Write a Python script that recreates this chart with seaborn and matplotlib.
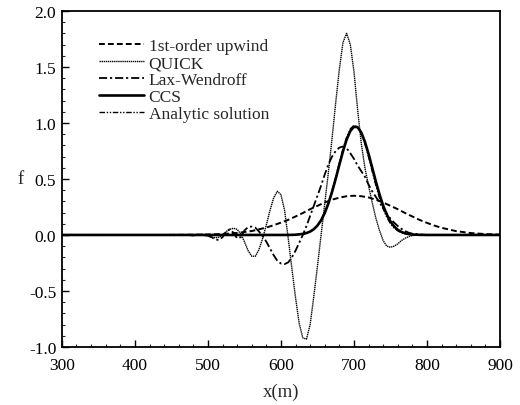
import matplotlib
matplotlib.use("Agg")
import matplotlib.pyplot as plt
import seaborn as sns
from matplotlib.ticker import MultipleLocator, FormatStrFormatter

# ---- data: f(x) after advection, per scheme ----
x_upwind = [300, 440, 460, 480, 500, 520, 540, 560, 580, 590, 600, 610, 620, 630, 640,
            650, 660, 670, 680, 690, 700, 710, 720, 730, 740, 750, 760, 770, 780, 790,
            800, 810, 820, 840, 860, 880, 900]
f_upwind = [0.0, 0.0, 0.001, 0.002, 0.004, 0.009, 0.018, 0.035, 0.066, 0.087, 0.11, 0.135,
            0.165, 0.196, 0.23, 0.26, 0.29, 0.315, 0.333, 0.346, 0.35, 0.346, 0.335, 0.315,
            0.29, 0.26, 0.23, 0.196, 0.165, 0.134, 0.108, 0.084, 0.064, 0.034, 0.017, 0.008,
            0.003]

x_quick = [300, 480, 490, 500, 505, 510, 515, 520, 525, 530, 535, 540, 545, 550, 555, 560,
           565, 570, 575, 580, 585, 590, 595, 600, 605, 610, 615, 620, 625, 630, 635, 640,
           645, 650, 655, 660, 665, 670, 675, 680, 685, 690, 695, 700, 705, 710, 715, 720,
           725, 730, 735, 740, 745, 750, 755, 760, 765, 770, 775, 780, 790, 900]
f_quick = [0.0, 0.0, 0.0, -0.01, -0.02, -0.025, -0.02, 0.0, 0.03, 0.05, 0.06, 0.05, 0.01,
           -0.06, -0.14, -0.19, -0.19, -0.13, -0.03, 0.09, 0.22, 0.33, 0.39, 0.36, 0.22, -0.03,
           -0.30, -0.56, -0.79, -0.92, -0.93, -0.80, -0.55, -0.28, 0.0, 0.28, 0.56, 0.86, 1.18,
           1.48, 1.72, 1.80, 1.70, 1.46, 1.12, 0.82, 0.60, 0.44, 0.29, 0.15, 0.04, -0.05,
           -0.10, -0.11, -0.10, -0.08, -0.05, -0.03, -0.015, -0.005, 0.0, 0.0]

x_laxw = [300, 470, 480, 490, 500, 505, 510, 515, 520, 525, 530, 535, 540, 545, 550, 555,
          560, 565, 570, 575, 580, 585, 590, 595, 600, 605, 610, 615, 620, 625, 630, 635,
          640, 645, 650, 655, 660, 665, 670, 675, 680, 685, 690, 695, 700, 705, 710, 715,
          720, 725, 730, 735, 740, 745, 750, 755, 760, 765, 770, 775, 780, 790, 800, 900]
f_laxw = [0.0, 0.0, -0.005, 0.005, -0.005, -0.02, -0.04, -0.045, -0.02, 0.03, 0.05, 0.02,
          -0.03, -0.02, 0.04, 0.07, 0.075, 0.065, 0.03, -0.01, -0.06, -0.12, -0.18, -0.23,
          -0.255, -0.26, -0.245, -0.20, -0.14, -0.07, 0.0, 0.08, 0.17, 0.26, 0.35, 0.44, 0.54,
          0.63, 0.70, 0.75, 0.78, 0.79, 0.775, 0.73, 0.68, 0.62, 0.57, 0.52, 0.45, 0.39, 0.34,
          0.29, 0.24, 0.19, 0.145, 0.11, 0.08, 0.055, 0.035, 0.02, 0.012, 0.004, 0.0, 0.0]

x_ccs = [300, 610, 620, 630, 635, 640, 645, 650, 655, 660, 665, 670, 675, 680, 685, 690,
         695, 700, 705, 710, 715, 720, 725, 730, 735, 740, 745, 750, 755, 760, 765, 770,
         775, 780, 790, 800, 900]
f_ccs = [0.0, 0.0, 0.002, 0.009, 0.017, 0.030, 0.051, 0.084, 0.131, 0.196, 0.281, 0.384,
         0.501, 0.626, 0.747, 0.852, 0.928, 0.966, 0.962, 0.916, 0.832, 0.724, 0.601, 0.477,
         0.362, 0.262, 0.182, 0.120, 0.076, 0.046, 0.027, 0.015, 0.008, 0.004, 0.001, 0.0,
         0.0]

x_exact = [300, 610, 620, 630, 635, 640, 645, 650, 655, 660, 665, 670, 675, 680, 685, 690,
           695, 700, 705, 710, 715, 720, 725, 730, 735, 740, 745, 750, 755, 760, 765, 770,
           775, 780, 790, 800, 900]
f_exact = [0.0, 0.0, 0.002, 0.008, 0.016, 0.029, 0.051, 0.084, 0.133, 0.200, 0.288, 0.395,
           0.517, 0.646, 0.769, 0.874, 0.947, 0.979, 0.965, 0.908, 0.814, 0.697, 0.569, 0.443,
           0.329, 0.233, 0.157, 0.101, 0.062, 0.037, 0.020, 0.011, 0.006, 0.003, 0.001, 0.0,
           0.0]

labels = ["1st-order upwind", "QUICK", "Lax-Wendroff", "CCS", "Analytic solution"]

sns.set_theme(style="ticks")
plt.rcParams["font.family"] = ["Liberation Serif", "DejaVu Serif"]
plt.rcParams["axes.unicode_minus"] = False

fig = plt.figure(figsize=(5.2, 4.06), dpi=100)
ax = fig.add_axes([0.119, 0.143, 0.8425, 0.8275])

series = [
    (x_upwind, f_upwind, labels[0], dict(lw=1.4, linestyle=(0, (3.0, 1.6)))),
    (x_quick, f_quick, labels[1], dict(lw=1.0, linestyle=(0, (1.0, 0.5)))),
    (x_laxw, f_laxw, labels[2], dict(lw=1.3, linestyle=(0, (4.5, 1.6, 1.2, 1.6)))),
    (x_ccs, f_ccs, labels[3], dict(lw=1.9, linestyle="-")),
    (x_exact, f_exact, labels[4], dict(lw=1.0, linestyle=(0, (4.0, 1.2, 1.0, 1.2, 1.0, 1.2)))),
]
for xs, fs, lab, style in series:
    sns.lineplot(x=xs, y=fs, ax=ax, color="black", label=lab, sort=False, **style)

ax.set_xlim(300, 900)
ax.set_ylim(-1.0, 2.0)
ax.xaxis.set_major_locator(MultipleLocator(100))
ax.xaxis.set_minor_locator(MultipleLocator(20))
ax.yaxis.set_major_locator(MultipleLocator(0.5))
ax.yaxis.set_minor_locator(MultipleLocator(0.1))
ax.yaxis.set_major_formatter(FormatStrFormatter("%.1f"))

ax.tick_params(which="major", direction="in", length=5, width=1.0, labelsize=12.5,
               colors="black")
ax.tick_params(axis="x", which="major", pad=7)
ax.tick_params(axis="y", which="major", pad=4)
ax.tick_params(which="minor", direction="in", length=2.5, width=0.8)
for sp in ax.spines.values():
    sp.set_linewidth(1.3)
    sp.set_color("black")

ax.set_xlabel("x(m)", fontsize=13.5, labelpad=7)
ax.set_ylabel("f", fontsize=13.5, rotation=0, labelpad=6, va="center")

ax.legend(loc="upper left", bbox_to_anchor=(0.085, 0.92), frameon=False, fontsize=12.5,
          handlelength=2.6, handletextpad=0.25, labelspacing=0.05, borderaxespad=0,
          borderpad=0)

fig.savefig("out.png", dpi=100)
